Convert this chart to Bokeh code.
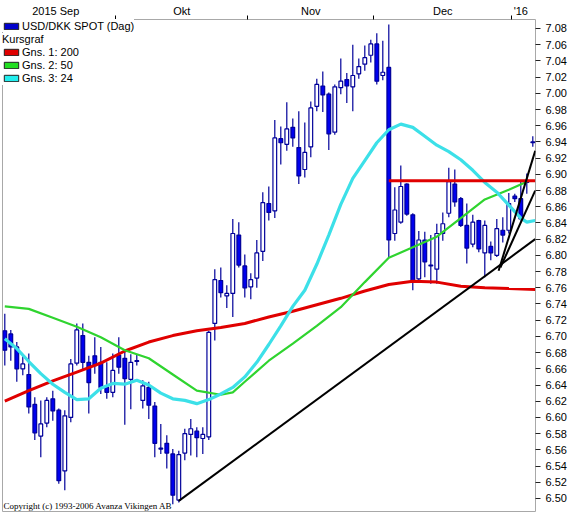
from bokeh.plotting import figure
from bokeh.models import (ColumnDataSource, Range1d, LinearAxis, FixedTicker, Legend,
                          LegendItem, NumeralTickFormatter, Label)
from bokeh.core.properties import value
from bokeh.embed import file_html
from bokeh.resources import INLINE

# ---------------- data ----------------
opens = [6.707, 6.703, 6.687, 6.660, 6.653, 6.616, 6.577, 6.593, 6.623, 6.609,
         6.534, 6.600, 6.667, 6.701, 6.668, 6.676, 6.668, 6.637, 6.631, 6.677,
         6.673, 6.647, 6.669, 6.621, 6.637, 6.614, 6.561, 6.568, 6.555, 6.498,
         6.556, 6.579, 6.583, 6.574, 6.576, 6.716, 6.769, 6.750, 6.753, 6.825,
         6.787, 6.761, 6.772, 6.805, 6.864, 6.855, 6.944, 6.937, 6.958, 6.933,
         6.906, 6.934, 6.984, 7.009, 6.999, 6.952, 7.007, 7.017, 7.008, 7.024,
         7.036, 7.047, 7.061, 7.022, 7.032, 6.827, 6.841, 6.888, 6.850, 6.771,
         6.819, 6.788, 6.783, 6.827, 6.852, 6.888, 6.870, 6.837, 6.814, 6.843,
         6.803, 6.811, 6.800, 6.831, 6.831, 6.873, 6.870, 6.890, 6.939]
highs = [6.728, 6.708, 6.693, 6.678, 6.679, 6.625, 6.621, 6.625, 6.633, 6.611,
         6.609, 6.672, 6.716, 6.716, 6.676, 6.699, 6.687, 6.668, 6.679, 6.699,
         6.682, 6.678, 6.677, 6.646, 6.644, 6.619, 6.592, 6.578, 6.561, 6.559,
         6.586, 6.598, 6.588, 6.588, 6.707, 6.783, 6.785, 6.763, 6.845, 6.841,
         6.801, 6.778, 6.819, 6.878, 6.885, 6.967, 6.959, 6.989, 6.969, 6.978,
         6.964, 6.990, 7.018, 7.027, 7.001, 7.011, 7.043, 7.025, 7.060, 7.043,
         7.059, 7.066, 7.074, 7.065, 7.085, 6.884, 6.911, 6.889, 6.852, 6.830,
         6.829, 6.825, 6.839, 6.853, 6.908, 6.906, 6.872, 6.864, 6.850, 6.844,
         6.843, 6.817, 6.845, 6.847, 6.877, 6.876, 6.892, 6.901, 6.947]
lows = [6.664, 6.670, 6.644, 6.652, 6.605, 6.572, 6.551, 6.588, 6.596, 6.518,
        6.510, 6.594, 6.664, 6.658, 6.605, 6.654, 6.629, 6.623, 6.625, 6.654,
        6.591, 6.610, 6.664, 6.611, 6.598, 6.551, 6.555, 6.537, 6.493, 6.495,
        6.547, 6.553, 6.551, 6.555, 6.572, 6.695, 6.748, 6.735, 6.724, 6.785,
        6.748, 6.746, 6.760, 6.793, 6.843, 6.846, 6.912, 6.929, 6.934, 6.888,
        6.896, 6.921, 6.978, 6.977, 6.930, 6.949, 6.999, 6.988, 6.978, 7.018,
        7.028, 7.038, 7.011, 7.016, 6.798, 6.818, 6.839, 6.849, 6.757, 6.769,
        6.773, 6.765, 6.765, 6.818, 6.847, 6.860, 6.835, 6.790, 6.810, 6.804,
        6.773, 6.794, 6.798, 6.816, 6.827, 6.866, 6.843, 6.876, 6.934]
closes = [6.683, 6.687, 6.660, 6.666, 6.613, 6.581, 6.592, 6.621, 6.608, 6.522,
          6.602, 6.666, 6.708, 6.668, 6.643, 6.664, 6.637, 6.631, 6.658, 6.662,
          6.648, 6.668, 6.670, 6.639, 6.615, 6.568, 6.562, 6.556, 6.504, 6.554,
          6.580, 6.586, 6.575, 6.579, 6.705, 6.770, 6.754, 6.753, 6.827, 6.788,
          6.760, 6.770, 6.803, 6.865, 6.853, 6.945, 6.939, 6.956, 6.945, 6.898,
          6.927, 6.982, 7.011, 6.998, 6.950, 7.008, 7.015, 7.009, 7.022, 7.033,
          7.044, 7.061, 7.015, 7.026, 6.819, 6.856, 6.885, 6.851, 6.769, 6.819,
          6.792, 6.787, 6.827, 6.839, 6.891, 6.866, 6.837, 6.809, 6.841, 6.808,
          6.837, 6.803, 6.833, 6.825, 6.864, 6.870, 6.845, 6.892, 6.940]
days = list(range(len(opens)))

# moving averages
ma200_x = [0, 4, 8, 12, 16, 20, 24, 28, 32, 36, 40, 44, 48, 52, 56, 60, 64, 68, 72, 76, 80, 84, 88.4]
ma200_y = [6.620, 6.633, 6.645, 6.656, 6.667, 6.682, 6.693, 6.701, 6.707, 6.711, 6.716, 6.724,
           6.731, 6.739, 6.747, 6.756, 6.764, 6.768, 6.767, 6.762, 6.760, 6.759, 6.758]
ma50_x = [0, 4, 8, 12, 16, 20, 24, 28, 32, 36, 38, 40, 44, 48, 52, 56, 60, 64, 68, 72, 76, 80, 84, 87]
ma50_y = [6.737, 6.734, 6.723, 6.712, 6.699, 6.683, 6.673, 6.653, 6.633, 6.628, 6.631, 6.644,
          6.670, 6.691, 6.713, 6.736, 6.767, 6.797, 6.810, 6.823, 6.846, 6.869, 6.881, 6.891]
ma24_x = [0, 2, 4, 6, 8, 10, 12, 14, 16, 18, 20, 22, 24, 26, 28, 30, 32, 34, 36, 38, 40, 42, 44,
          46, 48, 50, 52, 54, 56, 58, 60, 62, 64, 66, 68, 70, 72, 74, 76, 78, 80, 82, 84, 86, 87, 88.4]
ma24_y = [6.697, 6.685, 6.669, 6.654, 6.641, 6.631, 6.622, 6.623, 6.636, 6.642, 6.641, 6.646,
          6.640, 6.630, 6.623, 6.621, 6.617, 6.622, 6.629, 6.637, 6.650, 6.668, 6.690, 6.713,
          6.737, 6.757, 6.789, 6.825, 6.863, 6.895, 6.917, 6.939, 6.955, 6.962, 6.958, 6.947,
          6.936, 6.928, 6.918, 6.905, 6.890, 6.878, 6.862, 6.846, 6.841, 6.843]

# drawn lines
resist_x = [64, 88.4]
resist_y = [6.892, 6.892]
trend_x = [[29, 88.4], [82.3, 88.4], [82.6, 88.4]]
trend_y = [[6.497, 6.820], [6.781, 6.929], [6.785, 6.880]]

# axes
month_label_pos = [8.5, 29.5, 51, 73, 86]
month_labels = ["2015 Sep", "Okt", "Nov", "Dec", "'16"]
month_bounds = [18.5, 40.5, 61.5, 84.5]
y_ticks = [6.50, 6.52, 6.54, 6.56, 6.58, 6.60, 6.62, 6.64, 6.66, 6.68, 6.70, 6.72, 6.74, 6.76,
           6.78, 6.80, 6.82, 6.84, 6.86, 6.88, 6.90, 6.92, 6.94, 6.96, 6.98, 7.00, 7.02, 7.04,
           7.06, 7.08]

# ---------------- figure ----------------
FONT = "Liberation Sans"
p = figure(width=571, height=513, output_backend="svg", toolbar_location=None,
           x_range=Range1d(-0.383, 88.45), y_range=Range1d(6.4839, 7.0911),
           x_axis_location=None, y_axis_location=None,
           min_border_left=2, min_border_right=36, min_border_top=19, min_border_bottom=2)
p.background_fill_color = "white"
p.border_fill_color = "white"
p.outline_line_color = "#a8a8a8"
p.outline_line_width = 1
p.grid.grid_line_color = None

top_axis = LinearAxis(ticker=FixedTicker(ticks=month_label_pos, minor_ticks=month_bounds),
                      major_label_overrides={k: v for k, v in zip(month_label_pos, month_labels)},
                      axis_line_color=None, major_tick_in=0, major_tick_out=0,
                      minor_tick_in=0, minor_tick_out=4, minor_tick_line_color="black",
                      major_label_standoff=-1, major_label_text_font=FONT,
                      major_label_text_font_size="11px", major_label_text_color="black")
p.add_layout(top_axis, "above")

right_axis = LinearAxis(ticker=FixedTicker(ticks=y_ticks), formatter=NumeralTickFormatter(format="0.00"),
                        axis_line_color=None, major_tick_in=0, major_tick_out=5,
                        major_tick_line_color="#222222", minor_tick_line_color=None,
                        major_label_standoff=5, major_label_text_font=FONT,
                        major_label_text_font_size="11px", major_label_text_color="black")
p.add_layout(right_axis, "right")

# candles
WICK = "#00009a"
FILL = "#0000ee"
up = [c >= o for o, c in zip(opens, closes)]
body_top = [max(o, c) for o, c in zip(opens, closes)]
body_bot = [min(o, c) for o, c in zip(opens, closes)]
src = ColumnDataSource(dict(x=days, high=highs, low=lows, top=body_top, bottom=body_bot,
                            fill=["white" if u else FILL for u in up]))
p.segment(x0="x", y0="low", x1="x", y1="high", source=src, line_color=WICK, line_width=1.2)
p.vbar(x="x", width=0.62, top="top", bottom="bottom", source=src,
       fill_color="fill", line_color=WICK, line_width=1.2)

# moving averages and drawn lines
p.line(ma200_x, ma200_y, line_color="#e00000", line_width=3)
p.line(ma50_x, ma50_y, line_color="#2fd42f", line_width=2.2)
p.line(ma24_x, ma24_y, line_color="#3ce0e8", line_width=3.2)
p.line(resist_x, resist_y, line_color="#e00000", line_width=3)
p.multi_line(trend_x, trend_y, line_color="black", line_width=2)

# legend swatches (off-range dummy quads)
def swatch(color, alpha=1.0):
    return p.quad(left=[-10], right=[-9], top=[6.0], bottom=[5.9], fill_color=color,
                  fill_alpha=alpha, line_color="#202020", line_alpha=alpha)

r_usd = swatch("#0000cc")
r_g1 = swatch("#e00000")
r_g2 = swatch("#22dd22")
r_g3 = swatch("#22eeee")

common = dict(margin=0, padding=0, spacing=0, glyph_width=18, glyph_height=8, label_height=13,
              label_standoff=2, label_text_font=FONT, label_text_font_size="11px",
              label_text_color="black", border_line_color=None,
              background_fill_color="white", background_fill_alpha=1.0)
leg1 = Legend(items=[LegendItem(label="USD/DKK SPOT (Dag)", renderers=[r_usd])],
              location="top_left", **common)
leg2 = Legend(items=[LegendItem(label="Gns. 1: 200", renderers=[r_g1]),
                     LegendItem(label="Gns. 2: 50", renderers=[r_g2]),
                     LegendItem(label="Gns. 3: 24", renderers=[r_g3])],
              title="Kursgraf", title_text_font=FONT, title_text_font_size="11px",
              title_text_font_style="normal", title_text_color="black", title_standoff=1,
              location=(0, 426.5), **common)
p.add_layout(leg1)
p.add_layout(leg2)

p.add_layout(Label(x=-0.2, y=6.4905, text="Copyright (c) 1993-2006 Avanza Vikingen AB",
                   text_font="Liberation Serif", text_font_size="9px", text_color="black",
                   text_baseline="alphabetic"))

open("out.html", "w").write(file_html(p, INLINE))
